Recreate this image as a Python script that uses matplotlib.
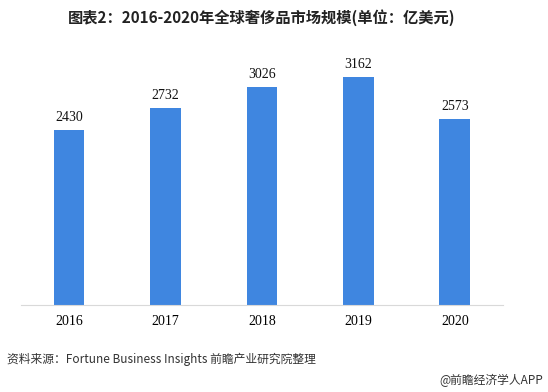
import matplotlib.pyplot as plt

years = ['2016', '2017', '2018', '2019', '2020']
values = [2430, 2732, 3026, 3162, 2573]

plt.rcParams['font.family'] = ['Noto Sans CJK SC', 'DejaVu Sans']

fig = plt.figure(figsize=(5.48, 3.92), dpi=100)
ax = fig.add_axes([0.038, 0.222, 0.880, 0.663])

x = range(len(years))
bars = ax.bar(x, values, width=0.32, color='#3f86e0')
for xi, v in zip(x, values):
    ax.text(xi, v + 80, str(v), ha='center', va='bottom', fontsize=10,
            family='Liberation Serif', color='#111111')

ax.set_xlim(-0.5, 4.5)
ax.set_ylim(0, 3600)
ax.set_xticks(list(x))
ax.set_xticklabels(years, family='Liberation Serif', fontsize=10)
ax.tick_params(axis='x', length=0, pad=7)
ax.set_yticks([])
for s in ['top', 'right', 'left']:
    ax.spines[s].set_visible(False)
ax.spines['bottom'].set_color('#d9d9d9')

fig.text(0.478, 0.955, '图表2：2016-2020年全球奢侈品市场规模(单位：亿美元)',
         ha='center', va='center', fontsize=11, fontweight='bold', color='#222222')
fig.text(0.013, 0.082, '资料来源：Fortune Business Insights 前瞻产业研究院整理',
         ha='left', va='center', fontsize=8.5, color='#333333')
fig.text(0.992, 0.030, '@前瞻经济学人APP', ha='right', va='center',
         fontsize=8.5, color='#333333')

fig.savefig('out.png', dpi=100)
